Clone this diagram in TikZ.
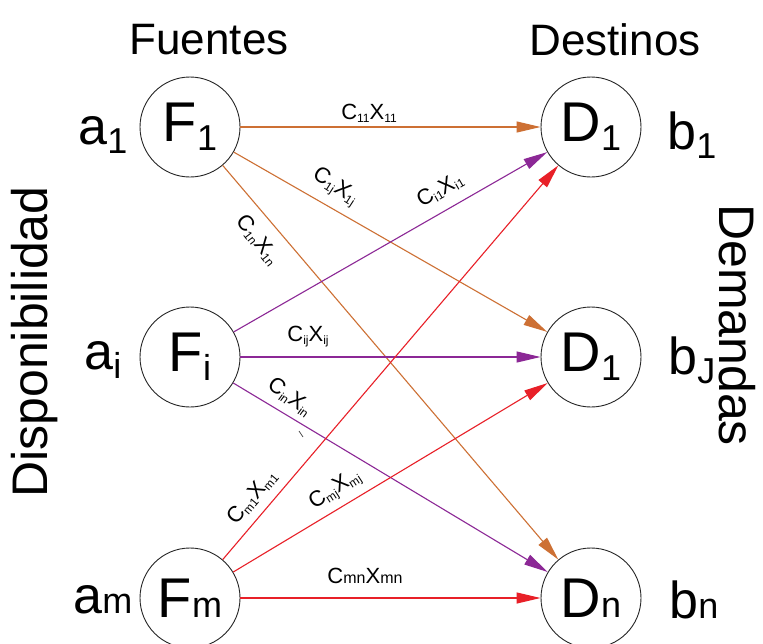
\documentclass[tikz,border=0pt]{standalone}
\usepackage{fontspec}
\setmainfont{Liberation Sans}
\usetikzlibrary{arrows.meta}
\definecolor{corange}{RGB}{205,112,52}
\definecolor{cpurple}{RGB}{140,40,150}
\definecolor{cred}{RGB}{232,32,40}
\newcommand\lsub[2][36]{\raisebox{-9pt}{\fontsize{#1}{#1}\selectfont #2}}
\newcommand\bsub[2][36]{{\fontsize{#1}{#1}\selectfont #2}}
\newcommand\esub[1]{\raisebox{-3pt}{\fontsize{12}{12}\selectfont #1}}
\newcommand\msub[1]{{\fontsize{16}{16}\selectfont #1}}
\begin{document}
\begin{tikzpicture}[x=1pt,y=-1pt,
  place/.style={draw=black!85, line width=0.9pt, circle, minimum size=100pt, inner sep=0pt, font=\fontsize{56}{56}\selectfont},
  side/.style={font=\fontsize{52}{52}\selectfont, inner sep=0pt},
  title/.style={font=\fontsize{44}{44}\selectfont, inner sep=0pt},
  elab/.style={font=\fontsize{22}{22}\selectfont, inner sep=1pt},
  flow/.style={line width=1.1pt, -{Triangle[length=24pt,width=11pt]}},
]
\fill[white] (0,0) rectangle (763,643);
\useasboundingbox (0,0) rectangle (763,643);

% titles
\node[title] (tf) at (209,40) {Fuentes};
\node[title] (td) at (615,40) {Destinos};
\node[title, font=\fontsize{50}{50}\selectfont, rotate=90] (tdisp) at (35,342) {Disponibilidad};
\node[title, font=\fontsize{50}{50}\selectfont, rotate=-90] (tdem) at (737,325) {Demandas};

% nodes
\node[place] (F1) at (190,127) {F\lsub{1}};
\node[place] (Fi) at (190,357) {F\lsub{i}};
\node[place] (Fm) at (190,598) {F\bsub{m}};
\node[place] (D1) at (591,127) {D\lsub{1}};
\node[place] (DJ) at (591,357) {D\lsub{1}};
\node[place] (Dn) at (591,598) {D\bsub{n}};

% side labels
\node[side] (a1) at (103,135) {a\lsub{1}};
\node[side] (ai) at (103,360) {a\lsub{i}};
\node[side] (am) at (103,600) {a\bsub{m}};
\node[side] (b1) at (692,135) {b\lsub{1}};
\node[side] (bj) at (692,360) {b\lsub{J}};
\node[side] (bn) at (694,600) {b\bsub{n}};

% connectors
\draw[flow, corange] (F1) -- (D1);
\draw[flow, corange] (F1) -- (DJ);
\draw[flow, corange] (F1) -- (Dn);
\draw[flow, cpurple] (Fi) -- (D1);
\draw[flow, cpurple] (Fi) -- (DJ);
\draw[flow, cpurple] (Fi) -- (Dn);
\draw[flow, cred] (Fm) -- (D1);
\draw[flow, cred] (Fm) -- (DJ);
\draw[flow, cred] (Fm) -- (Dn);

% connector labels
\node[elab] (l11) at (369,113) {C\esub{11}X\esub{11}};
\node[elab, rotate=-33] (l1j) at (335,187) {C\esub{1j}X\esub{1j}};
\node[elab, rotate=-52] (l1n) at (258,240) {C\esub{1n}X\esub{1n}};
\node[elab, rotate=30] (li1) at (440,190) {C\esub{i1}X\esub{i1}};
\node[elab] (lij) at (308,337) {C\esub{ij}X\esub{ij}};
\node[elab, rotate=-36] (lin) at (290,397) {C\esub{in}X\esub{in}};
\node[elab, rotate=50] (lm1) at (252,497) {C\esub{m1}X\esub{m1}};
\node[elab, rotate=33] (lmj) at (335,490) {C\esub{mj}X\esub{mj}};
\node[elab] (lmn) at (365,576) {C\msub{mn}X\msub{mn}};
\draw[black!70, line width=0.8pt] (299,431) -- (303,437);
\end{tikzpicture}
\end{document}
